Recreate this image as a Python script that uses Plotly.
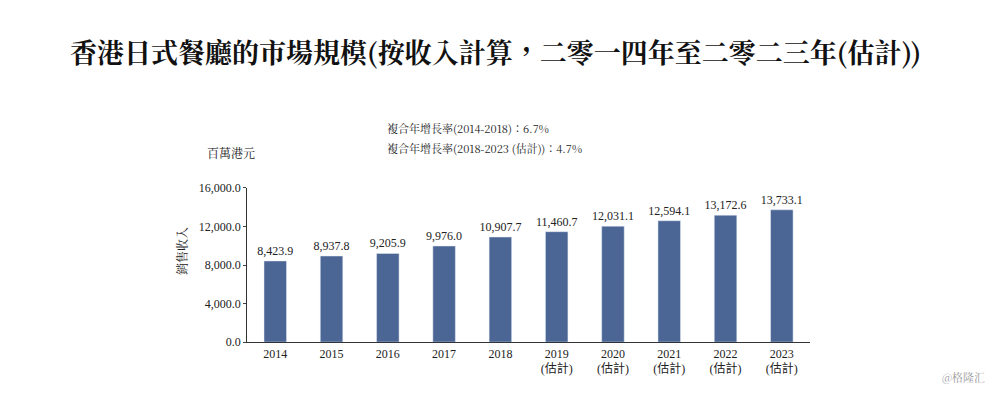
import plotly.graph_objects as go

years = ["2014", "2015", "2016", "2017", "2018", "2019<br>(估計)", "2020<br>(估計)",
         "2021<br>(估計)", "2022<br>(估計)", "2023<br>(估計)"]
revenue = [8423.9, 8937.8, 9205.9, 9976.0, 10907.7, 11460.7, 12031.1, 12594.1, 13172.6, 13733.1]
cagr_notes = ["複合年增長率(2014-2018)：6.7%", "複合年增長率(2018-2023 (估計))：4.7%"]

font = "Noto Serif CJK TC, Noto Sans CJK TC, serif"

fig = go.Figure(go.Bar(
    x=years, y=revenue,
    marker_color="#4b6594", width=0.4,
    text=[f"{v:,.1f}" for v in revenue], textposition="outside",
    textfont=dict(size=12, color="#222", family="Liberation Serif"),
    constraintext="none", cliponaxis=False,
))

fig.update_layout(
    autosize=True, plot_bgcolor="white", paper_bgcolor="white",
    margin=dict(l=0, r=0, t=0, b=0), showlegend=False,
    font=dict(family=font, color="#222"),
    xaxis=dict(domain=[0.243, 0.815], showline=True, linecolor="#333", ticks="",
               tickfont=dict(size=12, family="Liberation Serif, Noto Sans CJK TC")),
    yaxis=dict(domain=[0.13, 0.54], range=[0, 16000], dtick=4000, tickformat=",.1f",
               showline=True, linecolor="#333", showgrid=False, ticks="outside",
               ticklen=3, tickfont=dict(size=12, family="Liberation Serif")),
)

fig.add_annotation(text="<b>香港日式餐廳的市場規模(按收入計算，二零一四年至二零二三年(估計))</b>",
                   x=0.495, y=0.904, xref="paper", yref="paper", yanchor="middle",
                   showarrow=False, font=dict(size=27, color="#111"))
for i, note in enumerate(cagr_notes):
    fig.add_annotation(text=note, x=0.383, y=0.70 - i * 0.054, xref="paper", yref="paper",
                       xanchor="left", yanchor="middle", showarrow=False, font=dict(size=11))
fig.add_annotation(text="百萬港元", x=0.2, y=0.633, xref="paper", yref="paper", yanchor="middle",
                   showarrow=False, font=dict(size=12))
fig.add_annotation(text="銷售收入", x=0.165, y=0.372, xref="paper", yref="paper", yanchor="middle",
                   textangle=-90, showarrow=False, font=dict(size=12))
fig.add_annotation(text="@格隆汇", x=0.995, y=0.01, xref="paper", yref="paper",
                   xanchor="right", yanchor="bottom", showarrow=False,
                   font=dict(size=11, color="#999"))

fig.write_html("out.html")
